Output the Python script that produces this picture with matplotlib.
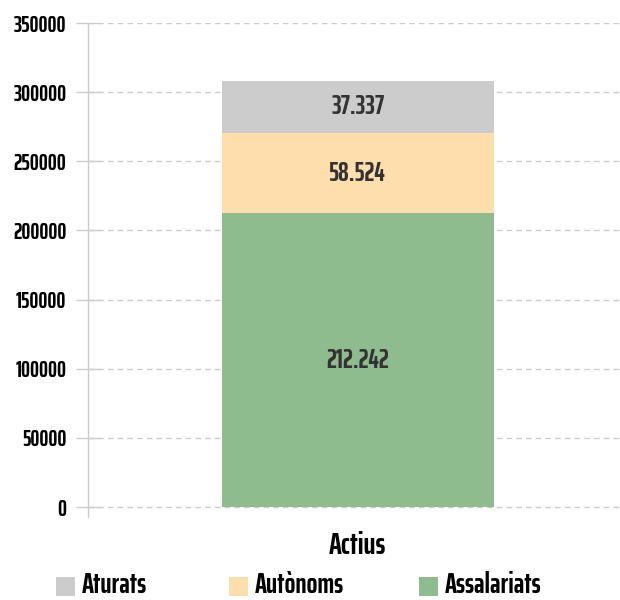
import matplotlib
matplotlib.use("Agg")
import matplotlib.pyplot as plt
from matplotlib.patches import Rectangle

categories = ["Actius"]
series_names = ["Assalariats", "Autònoms", "Aturats"]
series_values = [[212242], [58524], [37337]]
series_colors = ["#8fbc8f", "#fddeac", "#cccccc"]
value_labels = [["212.242"], ["58.524"], ["37.337"]]
yticks = [0, 50000, 100000, 150000, 200000, 250000, 300000, 350000]

FONT = ["Saira ExtraCondensed", "DejaVu Sans"]
TXT = "#333333"
W, H = 620, 600

fig = plt.figure(figsize=(6.2, 6.0), dpi=100)
ax = fig.add_axes([88/W, (H-517)/H, (W-88)/W, (517-23)/H])

x = list(range(len(categories)))
bottoms = [0]*len(categories)
for name, vals, col, labs in zip(series_names, series_values, series_colors, value_labels):
    ax.bar(x, vals, width=0.5, bottom=bottoms, color=col, zorder=3, label=name)
    for xi, v, bt, lab in zip(x, vals, bottoms, labs):
        ax.text(xi, bt + v/2, lab, ha="center", va="center", fontsize=19,
                fontweight="bold", family=FONT, color=TXT, zorder=4)
    bottoms = [bt + v for bt, v in zip(bottoms, vals)]

ybot = -10/484*350000
ax.set_ylim(ybot, 350000)
ax.set_xlim(-0.496, 0.482)
ax.set_yticks(yticks)
ax.set_yticklabels([str(t) for t in yticks])
ax.set_xticks(x)
ax.set_xticklabels(categories)
for lab in ax.get_yticklabels():
    lab.set_family(FONT); lab.set_fontweight("bold"); lab.set_fontsize(16); lab.set_color("black")
for lab in ax.get_xticklabels():
    lab.set_family(FONT); lab.set_fontweight("bold"); lab.set_fontsize(22); lab.set_color("black")

ax.tick_params(axis="y", direction="inout", length=17, width=1, color="#cccccc", pad=7)
ax.tick_params(axis="x", length=0, pad=10)
ax.grid(axis="y", color="#cccccc", linestyle=(0, (4, 3)), linewidth=1, zorder=0)
for s in ["top", "right", "bottom"]:
    ax.spines[s].set_visible(False)
ax.spines["left"].set_color("#cccccc")
ax.spines["left"].set_linewidth(1)

# legend (manual, reversed series order)
leg_x = [56, 229, 419]
for px, name, col in zip(leg_x, list(reversed(series_names)), list(reversed(series_colors))):
    fig.patches.append(Rectangle((px/W, (H-596)/H), 19/W, 19/H, transform=fig.transFigure,
                                 facecolor=col, edgecolor="none"))
    fig.text((px+26)/W, (H-585)/H, name, ha="left", va="center", family=FONT,
             fontweight="bold", fontsize=20.5, color="black")

fig.savefig("out.png", dpi=100)
